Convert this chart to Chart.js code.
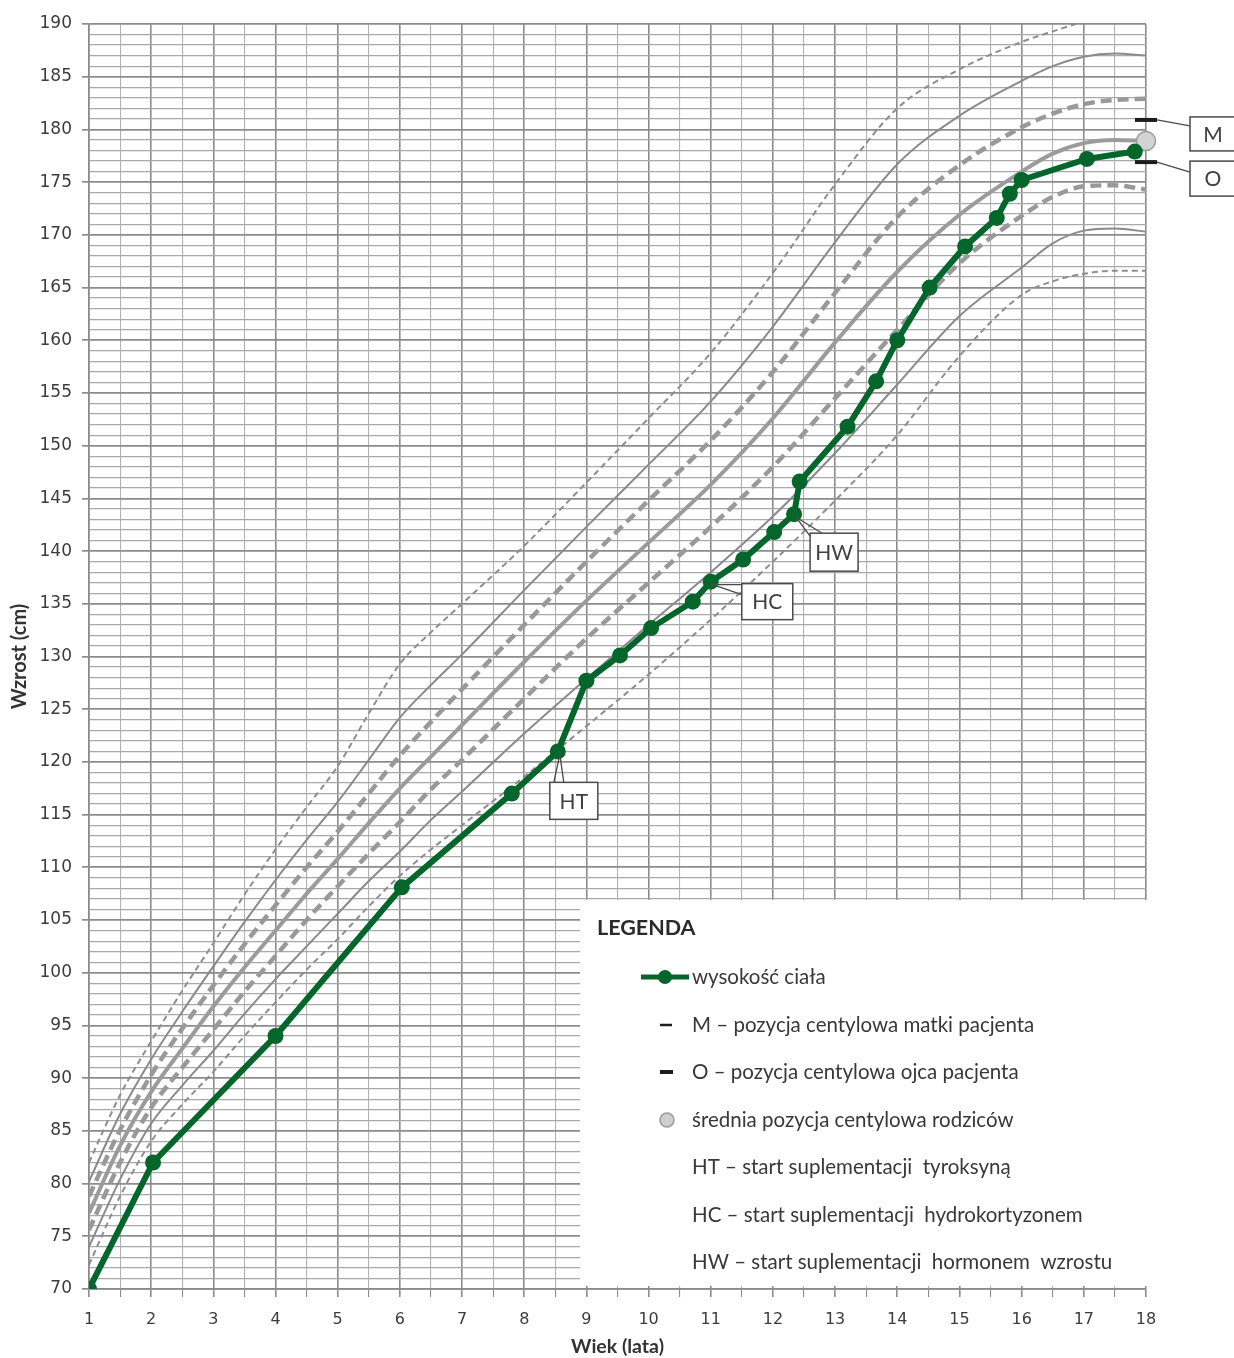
<!DOCTYPE html>
<html lang="pl">
<head>
<meta charset="utf-8">
<title>Siatka centylowa wzrostu</title>
<script src="https://cdn.jsdelivr.net/npm/chart.js@4.4.1/dist/chart.umd.min.js"></script>
<style>
  html, body { margin: 0; padding: 0; background: #ffffff; }
  #wrap { width: 1234px; height: 1358px; position: relative; }
  canvas { display: block; }
</style>
</head>
<body>
<div id="wrap"><canvas id="growth" width="1234" height="1358"></canvas></div>
<script>
// ---- axis tick labels ----
const ageTicks = [1, 2, 3, 4, 5, 6, 7, 8, 9, 10, 11, 12, 13, 14, 15, 16, 17, 18];
const heightTicks = [70, 75, 80, 85, 90, 95, 100, 105, 110, 115, 120, 125, 130, 135, 140, 145, 150, 155, 160, 165, 170, 175, 180, 185, 190];

// ---- reference centiles (cm) ----
const centileAges = [1, 1.5, 2, 2.5, 3, 3.5, 4, 4.5, 5, 5.5, 6, 6.5, 7, 8, 9, 10, 11, 12, 13, 14, 15, 16, 16.5, 17, 17.5, 18];
const c3  = [72.3, 78.8, 84.0, 87.5, 90.6, 94.0, 97.2, 100.3, 103.2, 106.3, 109.2, 111.7, 114.0, 118.6, 123.4, 128.3, 133.5, 139.0, 144.8, 151.0, 158.5, 164.3, 165.6, 166.3, 166.6, 166.6];
const c10 = [74.0, 80.4, 85.7, 89.3, 92.6, 96.1, 99.4, 102.5, 105.6, 108.7, 111.5, 114.5, 117.2, 122.7, 127.9, 133.0, 138.0, 143.3, 149.3, 155.8, 162.3, 166.9, 169.2, 170.4, 170.6, 170.3];
const c25 = [75.6, 82.0, 87.2, 91.0, 94.6, 98.2, 101.6, 105.0, 108.2, 111.3, 114.3, 117.4, 120.2, 126.0, 131.7, 137.0, 142.3, 148.0, 154.5, 161.0, 167.3, 171.8, 173.6, 174.6, 174.7, 174.3];
const c50 = [77.2, 83.6, 88.7, 92.8, 96.8, 100.5, 104.0, 107.5, 110.8, 114.2, 117.5, 120.5, 123.5, 129.5, 135.3, 140.8, 146.3, 152.6, 159.8, 166.5, 171.9, 176.0, 177.7, 178.7, 179.0, 178.9];
const c75 = [78.8, 85.1, 90.3, 94.7, 98.8, 102.7, 106.4, 110.0, 113.4, 117.0, 120.6, 123.8, 126.9, 133.0, 139.0, 144.8, 150.5, 157.0, 164.5, 171.7, 176.6, 180.2, 181.5, 182.4, 182.8, 182.9];
const c90 = [80.2, 86.6, 91.8, 96.3, 100.6, 104.8, 108.8, 112.6, 116.2, 120.2, 124.2, 127.3, 130.2, 136.3, 142.3, 148.2, 154.2, 161.3, 169.3, 176.7, 181.3, 184.6, 186.0, 186.9, 187.2, 187.0];
const c97 = [82.0, 88.4, 93.5, 98.3, 102.8, 107.4, 111.7, 115.7, 119.6, 124.6, 129.3, 132.3, 135.0, 140.5, 146.5, 152.6, 158.8, 166.4, 174.8, 182.0, 185.7, 188.3, 189.3, 190.2, 190.8, 191.2];

// ---- patient measurements ----
const patientAges    = [1.0, 2.03, 4.0, 6.03, 7.8, 8.54, 9.0, 9.54, 10.04, 10.71, 11.0, 11.52, 12.02, 12.34, 12.43, 13.2, 13.66, 14.0, 14.52, 15.09, 15.6, 15.81, 16.0, 17.05, 17.82];
const patientHeights = [70.0, 82.0, 94.0, 108.1, 117.0, 121.0, 127.7, 130.1, 132.7, 135.2, 137.1, 139.2, 141.8, 143.5, 146.6, 151.8, 156.1, 160.0, 165.0, 168.9, 171.6, 173.9, 175.2, 177.2, 177.9];

// therapy start markers: label and index of the measurement it points at
const therapyLabels  = ['HT', 'HC', 'HW'];
const therapyIndexes = [5, 10, 13];

// ---- parents' centile positions at final age ----
const parentAge = 18;
const motherHeight = 180.9;
const fatherHeight = 176.9;
const parentsMeanHeight = 178.9;

// ---- legend texts ----
const legendTitle = 'LEGENDA';
const legendTexts = [
  'wysokość ciała',
  'M – pozycja centylowa matki pacjenta',
  'O – pozycja centylowa ojca pacjenta',
  'średnia pozycja centylowa rodziców',
  'HT – start suplementacji  tyroksyną',
  'HC – start suplementacji  hydrokortyzonem',
  'HW – start suplementacji  hormonem  wzrostu'
];

const GREEN = '#04662b';
const TXT = '#383838';
const LEGEND_FONT = '20.5px Lato, "Open Sans", sans-serif';

const pts = (xs, ys) => xs.map((x, i) => ({ x: x, y: ys[i] }));

const thinDash   = { borderColor: '#8e8e8e', borderWidth: 2,   borderDash: [6, 4] };
const thinSolid  = { borderColor: '#8a8a8a', borderWidth: 2 };
const thickDash  = { borderColor: '#999999', borderWidth: 4.5, borderDash: [11, 6] };
const thickSolid = { borderColor: '#9b9b9b', borderWidth: 4 };

function centile(label, values, style) {
  return Object.assign({
    label: label,
    data: pts(centileAges, values),
    showLine: true,
    pointRadius: 0,
    fill: false,
    cubicInterpolationMode: 'monotone',
    order: 3
  }, style);
}

// half-year and 1 cm grid positions derived from the labelled ticks
const ageGrid = [];
for (let a = ageTicks[0]; a <= ageTicks[ageTicks.length - 1] + 1e-9; a += 0.5) ageGrid.push(a);
const heightGrid = [];
for (let h = heightTicks[0]; h <= heightTicks[heightTicks.length - 1]; h += 1) heightGrid.push(h);

// white panel in the lower right that holds the legend
const legendPanel = { left: 580, top: 900 };

const panelPlugin = {
  id: 'legendPanel',
  beforeDatasetsDraw(chart) {
    const { ctx, chartArea } = chart;
    ctx.save();
    ctx.fillStyle = '#ffffff';
    ctx.fillRect(legendPanel.left, legendPanel.top,
      chartArea.right + 3 - legendPanel.left, chartArea.bottom - 3 - legendPanel.top);
    ctx.restore();
  }
};

function calloutBox(ctx, x, y, w, h, text) {
  ctx.fillStyle = '#ffffff';
  ctx.fillRect(x, y, w, h);
  ctx.strokeStyle = '#4a4a4a';
  ctx.lineWidth = 1.5;
  ctx.strokeRect(x, y, w, h);
  ctx.fillStyle = '#404040';
  ctx.font = '21px Lato, "Open Sans", sans-serif';
  ctx.textAlign = 'center';
  ctx.textBaseline = 'middle';
  ctx.fillText(text, x + w / 2, y + h / 2 + 1);
}

function pointer(ctx, ax, ay, p1, p2) {
  ctx.strokeStyle = '#4a4a4a';
  ctx.lineWidth = 1.3;
  ctx.beginPath();
  ctx.moveTo(p1[0], p1[1]);
  ctx.lineTo(ax, ay);
  ctx.lineTo(p2[0], p2[1]);
  ctx.stroke();
}

const decorPlugin = {
  id: 'decor',
  afterDatasetsDraw(chart) {
    const { ctx } = chart;
    const xs = chart.scales.x, ys = chart.scales.y;
    ctx.save();

    // therapy callouts
    const boxes = {
      HT: { dx: -8, dy: 31, w: 48, h: 37, p1: [4, 0], p2: [14, 0] },
      HC: { dx: 31, dy: 2, w: 51, h: 36, p1: [0, 1], p2: [0, 11] },
      HW: { dx: 16, dy: 19, w: 48, h: 38, p1: [0, 3], p2: [12, 0] }
    };
    therapyLabels.forEach((lab, k) => {
      const i = therapyIndexes[k];
      const ax = xs.getPixelForValue(patientAges[i]);
      const ay = ys.getPixelForValue(patientHeights[i]);
      const b = boxes[lab];
      const bx = ax + b.dx, by = ay + b.dy;
      calloutBox(ctx, bx, by, b.w, b.h, lab);
      pointer(ctx, ax + 2, ay + 3, [bx + b.p1[0], by + b.p1[1]], [bx + b.p2[0], by + b.p2[1]]);
    });

    // parents' labels
    const px = xs.getPixelForValue(parentAge);
    const my = ys.getPixelForValue(motherHeight);
    const fy = ys.getPixelForValue(fatherHeight);
    ctx.strokeStyle = '#4a4a4a';
    ctx.lineWidth = 1.3;
    ctx.beginPath();
    ctx.moveTo(px + 11, my); ctx.lineTo(px + 44, my + 6);
    ctx.moveTo(px + 11, fy); ctx.lineTo(px + 44, fy + 10);
    ctx.stroke();
    calloutBox(ctx, px + 44, my - 3, 46, 34, 'M');
    calloutBox(ctx, px + 44, fy - 1, 46, 35, 'O');

    // legend
    const lx = 597, ty = 928;
    ctx.fillStyle = '#2a2a2a';
    ctx.font = 'bold 21.5px Lato, "Open Sans", sans-serif';
    ctx.textAlign = 'left';
    ctx.textBaseline = 'middle';
    ctx.fillText(legendTitle, lx, ty);

    const rowY = [977, 1025, 1072, 1120, 1167, 1215, 1262];
    const textX = 692;
    ctx.font = LEGEND_FONT;
    ctx.fillStyle = TXT;
    legendTexts.forEach((t, i) => ctx.fillText(t, textX, rowY[i]));

    // symbols
    ctx.strokeStyle = GREEN;
    ctx.lineWidth = 5;
    ctx.beginPath(); ctx.moveTo(641, rowY[0]); ctx.lineTo(689, rowY[0]); ctx.stroke();
    ctx.fillStyle = GREEN;
    ctx.beginPath(); ctx.arc(665, rowY[0], 7, 0, Math.PI * 2); ctx.fill();

    ctx.strokeStyle = '#1c1c1c';
    ctx.lineWidth = 2.5;
    ctx.beginPath(); ctx.moveTo(660, rowY[1]); ctx.lineTo(672, rowY[1]); ctx.stroke();
    ctx.lineWidth = 4;
    ctx.beginPath(); ctx.moveTo(660, rowY[2]); ctx.lineTo(673, rowY[2]); ctx.stroke();

    ctx.fillStyle = '#cfcfcf';
    ctx.strokeStyle = '#9a9a9a';
    ctx.lineWidth = 1.5;
    ctx.beginPath(); ctx.arc(667, rowY[3], 7, 0, Math.PI * 2); ctx.fill(); ctx.stroke();

    ctx.restore();
  }
};

const chart = new Chart(document.getElementById('growth'), {
  type: 'scatter',
  data: {
    datasets: [
      {
        label: 'wysokość ciała',
        data: pts(patientAges, patientHeights),
        showLine: true,
        borderColor: GREEN,
        backgroundColor: GREEN,
        borderWidth: 6,
        pointRadius: 8,
        pointBorderWidth: 0,
        tension: 0,
        order: 0
      },
      {
        label: 'średnia pozycja centylowa rodziców',
        data: [{ x: parentAge, y: parentsMeanHeight }],
        pointStyle: 'circle',
        pointRadius: 9.5,
        backgroundColor: '#d3d3d3',
        borderColor: '#9c9c9c',
        borderWidth: 1.5,
        clip: false,
        order: 1
      },
      {
        label: 'M',
        data: [{ x: parentAge, y: motherHeight }],
        pointStyle: 'line',
        pointRadius: 11,
        borderColor: '#1c1c1c',
        borderWidth: 4,
        clip: false,
        order: 1
      },
      {
        label: 'O',
        data: [{ x: parentAge, y: fatherHeight }],
        pointStyle: 'line',
        pointRadius: 11,
        borderColor: '#1c1c1c',
        borderWidth: 4,
        clip: false,
        order: 1
      },
      centile('P97', c97, thinDash),
      centile('P90', c90, thinSolid),
      centile('P75', c75, thickDash),
      centile('P50', c50, thickSolid),
      centile('P25', c25, thickDash),
      centile('P10', c10, thinSolid),
      centile('P3', c3, thinDash)
    ]
  },
  options: {
    responsive: false,
    animation: false,
    devicePixelRatio: 1,
    layout: { padding: { top: 24, right: 88, left: 0, bottom: 0 } },
    plugins: {
      legend: { display: false },
      tooltip: { enabled: false }
    },
    scales: {
      x: {
        type: 'linear',
        min: ageTicks[0],
        max: ageTicks[ageTicks.length - 1],
        afterBuildTicks: s => { s.ticks = ageGrid.map(v => ({ value: v })); },
        afterFit: s => { s.height = 69; },
        border: { color: '#8a8a8a', width: 1.5 },
        grid: {
          color: c => Number.isInteger(c.tick.value) ? '#8c8c8c' : '#b2b2b2',
          lineWidth: c => Number.isInteger(c.tick.value) ? 1.6 : 1.1,
          tickColor: '#8c8c8c',
          tickLength: 8
        },
        ticks: {
          autoSkip: false,
          maxRotation: 0,
          padding: 13,
          color: '#3c3c3c',
          font: { family: '"DejaVu Sans", Verdana, sans-serif', size: 16 },
          callback: v => ageTicks.includes(v) ? String(v) : ''
        },
        title: {
          display: true,
          text: 'Wiek (lata)',
          color: '#333333',
          font: { family: 'Lato, "Open Sans", sans-serif', size: 19.5, weight: 'bold' },
          padding: { top: 0, bottom: 0 }
        }
      },
      y: {
        type: 'linear',
        min: heightTicks[0],
        max: heightTicks[heightTicks.length - 1],
        afterBuildTicks: s => { s.ticks = heightGrid.map(v => ({ value: v })); },
        afterFit: s => { s.width = 89; },
        border: { color: '#8a8a8a', width: 1.5 },
        grid: {
          color: c => heightTicks.includes(c.tick.value) ? '#8c8c8c' : '#a9a9a9',
          lineWidth: c => heightTicks.includes(c.tick.value) ? 1.7 : 1.2,
          tickColor: c => heightTicks.includes(c.tick.value) ? '#8c8c8c' : 'rgba(0,0,0,0)',
          tickLength: 7
        },
        ticks: {
          autoSkip: false,
          padding: 10,
          color: '#3c3c3c',
          font: { family: '"DejaVu Sans", Verdana, sans-serif', size: 17 },
          callback: v => heightTicks.includes(v) ? String(v) : ''
        },
        title: {
          display: true,
          text: 'Wzrost (cm)',
          color: '#333333',
          font: { family: 'Lato, "Open Sans", sans-serif', size: 20, weight: 'bold' },
          padding: { top: 8, bottom: 0 }
        }
      }
    }
  },
  plugins: [panelPlugin, decorPlugin]
});
</script>
</body>
</html>
